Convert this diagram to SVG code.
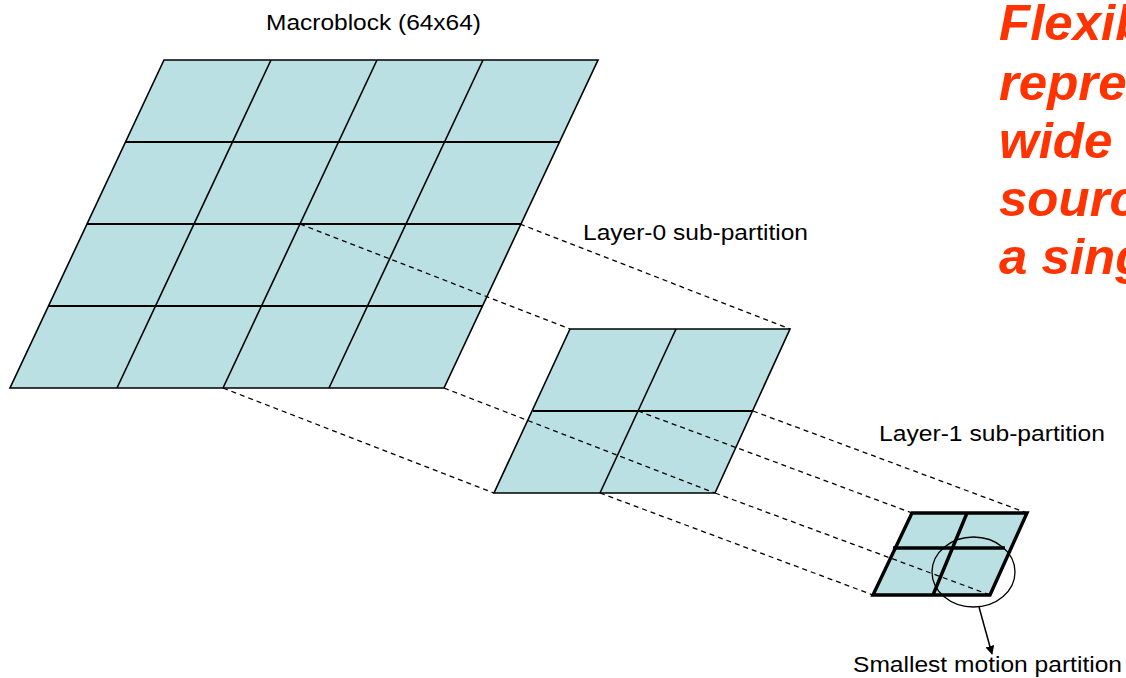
<svg xmlns="http://www.w3.org/2000/svg" width="1126" height="678" viewBox="0 0 1126 678">
  <style>
    .cell { fill: #BBE0E3; stroke: none; }
    .grid { fill: none; stroke: #000; stroke-width: 1.6; stroke-linejoin: miter; }
    .gridh { fill: none; stroke: #000; stroke-width: 2; }
    .bold { fill: none; stroke: #000; stroke-width: 3.4; stroke-linejoin: miter; }
    .dash { fill: none; stroke: #000; stroke-width: 1.3; stroke-dasharray: 5 4; }
    .label { font-family: "Liberation Sans", Arial, sans-serif; font-size: 21.5px; fill: #000; }
    .headline { font-family: "Liberation Sans", Arial, sans-serif; font-size: 50px; font-weight: bold; font-style: italic; fill: #FF3300; }
  </style>
  <defs>
    <marker id="arrowhead" viewBox="0 0 10 10" refX="9" refY="5" markerWidth="9" markerHeight="9" markerUnits="userSpaceOnUse" orient="auto">
      <path d="M0,0 L10,5 L0,10 Z" fill="#000"/>
    </marker>
  </defs>

  <rect width="1126" height="678" fill="#fff"/>

  <!-- 64x64 macroblock: 4x4 grid -->
  <g id="macroblock">
    <polygon class="cell" points="164,60 598,60 444,388 10,388"/>
    <path class="gridh" d="M126,142 H559 M87,224 H521 M49,306 H482"/>
    <path class="grid" d="M271,60 L117,388 M377,60 L223,388 M483,60 L329,388"/>
    <polygon class="grid" points="164,60 598,60 444,388 10,388"/>
  </g>

  <!-- layer-0: 2x2 grid -->
  <g id="layer0">
    <polygon class="cell" points="570,329 790,329 715,493 494,493"/>
    <path class="gridh" d="M533,411 H753"/>
    <path class="grid" d="M676,329 L600,493"/>
    <polygon class="grid" points="570,329 790,329 715,493 494,493"/>
  </g>

  <!-- layer-1: 2x2 grid, heavy outline -->
  <g id="layer1">
    <polygon class="cell" points="912,513 1027,513 990,595 873,595"/>
    <path class="bold" d="M893,548 H1005 M967,513 L933,595"/>
    <polygon class="bold" points="912,513 1027,513 990,595 873,595"/>
  </g>

  <!-- smallest partition highlight -->
  <g id="smallest">
    <ellipse cx="973.5" cy="572" rx="41.5" ry="35" fill="none" stroke="#000" stroke-width="1.3"/>
  </g>

  <!-- projection lines and pointer -->
  <g id="connectors">
    <line class="dash" x1="520" y1="224" x2="790" y2="329"/>
    <line class="dash" x1="300" y1="224" x2="570" y2="329"/>
    <line class="dash" x1="223" y1="388" x2="494" y2="493"/>
    <line class="dash" x1="444" y1="388" x2="715" y2="493"/>
    <line class="dash" x1="753" y1="411" x2="1027" y2="513"/>
    <line class="dash" x1="638" y1="411" x2="912" y2="513"/>
    <line class="dash" x1="600" y1="493" x2="873" y2="595"/>
    <line class="dash" x1="715" y1="493" x2="990" y2="595"/>
    <line x1="979" y1="607" x2="992" y2="654" stroke="#000" stroke-width="1.5" marker-end="url(#arrowhead)"/>
  </g>

  <!-- labels -->
  <g id="labels">
    <text class="label" x="266" y="30" textLength="215" lengthAdjust="spacingAndGlyphs">Macroblock (64x64)</text>
    <text class="label" x="583" y="240" textLength="225" lengthAdjust="spacingAndGlyphs">Layer-0 sub-partition</text>
    <text class="label" x="879" y="441" textLength="226" lengthAdjust="spacingAndGlyphs">Layer-1 sub-partition</text>
    <text class="label" x="853" y="672" textLength="269" lengthAdjust="spacingAndGlyphs">Smallest motion partition</text>
  </g>

  <!-- headline, running past the right edge -->
  <g id="headline" transform="translate(999,0) scale(1.02,1)">
    <text class="headline" x="0" y="40">Flexible</text>
    <text class="headline" x="0" y="100">representation</text>
    <text class="headline" x="0" y="158">wide range</text>
    <text class="headline" x="0" y="216">source</text>
    <text class="headline" x="0" y="274">a single</text>
  </g>
</svg>
